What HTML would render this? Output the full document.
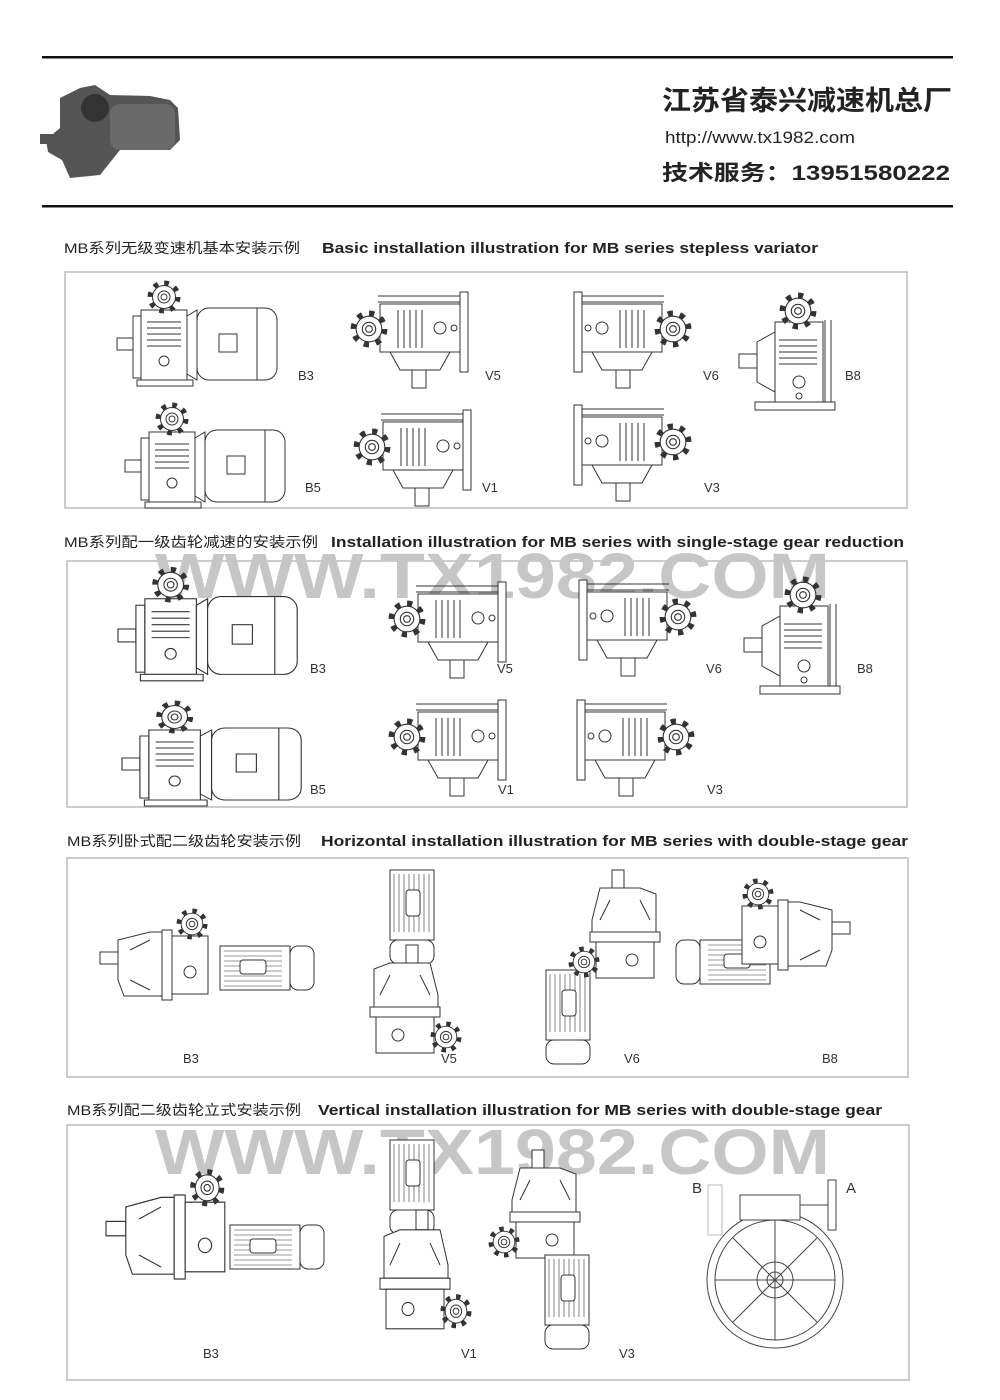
<!DOCTYPE html>
<html><head><meta charset="utf-8"><style>
html,body{margin:0;padding:0;background:#fff}
svg{display:block}
.t{font-family:"Liberation Sans","Noto Sans CJK SC",sans-serif}
.lab{font-family:"Liberation Sans",sans-serif;font-size:13px;fill:#333}
.wm{font-family:"Liberation Sans",sans-serif;font-weight:bold;font-size:64px;fill:#c6c6c6}
</style></head><body>
<svg width="1000" height="1400" viewBox="0 0 1000 1400" xmlns="http://www.w3.org/2000/svg">
<defs>
<symbol id="g" viewBox="-17 -17 34 34" overflow="visible">
 <circle r="13.5" fill="none" stroke="#333" stroke-width="6" stroke-dasharray="4.5 6.1"/>
 <circle r="11.5" fill="#fff" stroke="#333" stroke-width="1"/>
 <circle r="6" fill="none" stroke="#333" stroke-width="1"/>
 <circle r="3" fill="none" stroke="#333" stroke-width="1"/>
</symbol>
<g id="H" fill="#fff" stroke="#333" stroke-width="1">
 <rect x="0" y="50" width="16" height="12"/>
 <rect x="16" y="28" width="8" height="62"/>
 <rect x="24" y="22" width="46" height="70"/>
 <path d="M30 34h34M30 40h34M30 46h34M30 52h34M30 58h34" fill="none"/>
 <circle cx="47" cy="73" r="5"/>
 <use href="#g" x="30" y="-8" width="34" height="34"/>
 <path d="M70 28 L80 22 L80 92 L70 86Z"/>
 <rect x="80" y="20" width="80" height="72" rx="12"/>
 <rect x="102" y="46" width="18" height="18"/>
 <path d="M140 20v72M20 92h56v6H20z"/>
</g>
<g id="V" fill="#fff" stroke="#333" stroke-width="1">
 <path d="M28 4h82M28 10h82" fill="none"/>
 <rect x="110" y="0" width="8" height="80"/>
 <rect x="30" y="12" width="80" height="48"/>
 <path d="M48 18v38M54 18v38M60 18v38M66 18v38M72 18v38" fill="none"/>
 <circle cx="90" cy="36" r="6"/><circle cx="104" cy="36" r="3"/>
 <path d="M40 60 L50 78 H90 L100 60Z"/>
 <rect x="62" y="78" width="14" height="18"/>
 <use href="#g" x="0" y="18" width="38" height="38"/>
</g>
<g id="M" fill="#fff" stroke="#333" stroke-width="1">
 <rect x="0" y="0" width="70" height="44"/>
 <path d="M4 5h58M4 10h58M4 15h58M4 20h58M4 25h58M4 30h58M4 35h58M4 40h58" fill="none" stroke-width=".6"/>
 <rect x="20" y="14" width="26" height="14" rx="3"/>
 <rect x="70" y="0" width="24" height="44" rx="8"/>
</g>
<g id="R" fill="#fff" stroke="#333" stroke-width="1">
 <rect x="0" y="22" width="18" height="12"/>
 <path d="M18 10 L50 2 H62 V66 H24 L18 50Z"/>
 <path d="M30 20 L50 10 M30 50 L50 60" fill="none"/>
 <rect x="62" y="0" width="10" height="70"/>
 <rect x="72" y="6" width="36" height="58"/>
 <use href="#g" x="76" y="-22" width="32" height="32"/>
 <circle cx="90" cy="42" r="6"/>
</g>
</defs>

<rect width="1000" height="1400" fill="#fff"/>
<rect x="42" y="56" width="911" height="2.5" fill="#111"/>
<rect x="42" y="205" width="911" height="2.5" fill="#111"/>

<!-- header product photo -->
<g fill="#555">
 <path d="M60 98 L80 88 L95 85 L110 95 L150 96 L170 100 L178 108 L180 140 L170 150 L120 150 L100 175 L70 178 L62 160 L48 152 L46 140 L60 128Z"/>
 <circle cx="95" cy="108" r="14" fill="#333"/>
 <rect x="40" y="134" width="22" height="10"/>
 <rect x="110" y="104" width="65" height="46" rx="10" fill="#6a6a6a"/>
</g>

<text x="662" y="110" font-size="27" fill="#222" font-weight="bold" textLength="290" lengthAdjust="spacingAndGlyphs" style="font-family:'Noto Sans CJK SC',sans-serif">江苏省泰兴减速机总厂</text>
<text class="t" x="665" y="143" font-size="17" fill="#222" textLength="190" lengthAdjust="spacingAndGlyphs">http://www.tx1982.com</text>
<text class="t" x="662" y="180" font-size="21" fill="#222" font-weight="bold" textLength="288" lengthAdjust="spacingAndGlyphs">技术服务：13951580222</text>

<!-- section titles -->
<g class="t" font-size="14" fill="#222">
 <text x="64" y="253" textLength="236" lengthAdjust="spacingAndGlyphs">MB系列无级变速机基本安装示例</text>
 <text x="322" y="253" font-weight="bold" font-size="15" textLength="496" lengthAdjust="spacingAndGlyphs">Basic installation illustration for MB series stepless variator</text>
 <text x="64" y="547" textLength="254" lengthAdjust="spacingAndGlyphs">MB系列配一级齿轮减速的安装示例</text>
 <text x="331" y="547" font-weight="bold" font-size="15" textLength="573" lengthAdjust="spacingAndGlyphs">Installation illustration for MB series with single-stage gear reduction</text>
 <text x="67" y="846" textLength="234" lengthAdjust="spacingAndGlyphs">MB系列卧式配二级齿轮安装示例</text>
 <text x="321" y="846" font-weight="bold" font-size="15" textLength="587" lengthAdjust="spacingAndGlyphs">Horizontal installation illustration for MB series with double-stage gear</text>
 <text x="67" y="1115" textLength="234" lengthAdjust="spacingAndGlyphs">MB系列配二级齿轮立式安装示例</text>
 <text x="318" y="1115" font-weight="bold" font-size="15" textLength="564" lengthAdjust="spacingAndGlyphs">Vertical installation illustration for MB series with double-stage gear</text>
</g>

<!-- panels -->
<g fill="none" stroke="#bbb" stroke-width="1.5">
 <rect x="65" y="272" width="842" height="236"/>
 <rect x="67" y="561" width="840" height="246"/>
 <rect x="67" y="858" width="841" height="219"/>
 <rect x="67" y="1125" width="842" height="255"/>
</g>

<!-- watermarks -->
<text class="wm" x="155" y="598" textLength="675" lengthAdjust="spacingAndGlyphs">WWW.TX1982.COM</text>
<text class="wm" x="155" y="1174" textLength="675" lengthAdjust="spacingAndGlyphs">WWW.TX1982.COM</text>

<!-- Panel 1 -->
<use href="#H" x="117" y="288"/>
<use href="#V" x="350" y="292"/>
<use href="#V" transform="translate(692,292) scale(-1,1)"/>
<use href="#V" transform="translate(755,292) rotate(90) translate(0,-80)"/>
<use href="#H" x="125" y="410"/>
<use href="#V" x="353" y="410"/>
<use href="#V" transform="translate(692,405) scale(-1,1)"/>

<!-- Panel 2 -->
<use href="#H" transform="translate(118,575) scale(1.12,1.08)"/>
<use href="#V" x="388" y="582"/>
<use href="#V" transform="translate(697,580) scale(-1,1)"/>
<use href="#V" transform="translate(760,576) rotate(90) translate(0,-80)"/>
<use href="#H" transform="translate(122,708) scale(1.12,1)"/>
<use href="#V" x="388" y="700"/>
<use href="#V" transform="translate(695,700) scale(-1,1)"/>

<!-- Panel 3 -->
<use href="#R" x="100" y="930"/>
<use href="#M" x="220" y="946"/>
<use href="#M" transform="translate(390,870) rotate(90) translate(0,-44)"/>
<use href="#R" transform="translate(440,945) rotate(90)"/>
<use href="#M" transform="translate(546,970) rotate(90) translate(0,-44)"/>
<use href="#R" transform="translate(610,870) rotate(90) scale(1,-1) translate(0,-20)"/>
<use href="#M" transform="translate(770,940) scale(-1,1)"/>
<use href="#R" transform="translate(850,900) scale(-1,1)"/>

<!-- Panel 4 -->
<use href="#R" transform="translate(106,1195) scale(1.1,1.2)"/>
<use href="#M" transform="translate(230,1225)"/>
<use href="#M" transform="translate(390,1140) rotate(90) translate(0,-44)"/>
<use href="#R" transform="translate(450,1210) rotate(90) scale(1.1,1)"/>
<use href="#R" transform="translate(530,1150) rotate(90) scale(1,-1) translate(0,-20)"/>
<use href="#M" transform="translate(545,1255) rotate(90) translate(0,-44)"/>
<g fill="none" stroke="#444" stroke-width="1">
 <circle cx="775" cy="1280" r="68"/>
 <circle cx="775" cy="1280" r="60"/>
 <circle cx="775" cy="1280" r="18"/>
 <circle cx="775" cy="1280" r="8"/>
 <path d="M775 1220v120M715 1280h120M733 1238l84 84M817 1238l-84 84"/>
 <rect x="740" y="1195" width="60" height="25" fill="#fff"/>
 <rect x="828" y="1180" width="8" height="50" fill="#fff"/>
 <path d="M800 1205h28"/>
 <rect x="708" y="1185" width="14" height="50" stroke="#bbb"/>
</g>

<!-- labels -->
<g class="lab">
 <text x="298" y="380">B3</text><text x="485" y="380">V5</text><text x="703" y="380">V6</text><text x="845" y="380">B8</text>
 <text x="305" y="492">B5</text><text x="482" y="492">V1</text><text x="704" y="492">V3</text>
 <text x="310" y="673">B3</text><text x="497" y="673">V5</text><text x="706" y="673">V6</text><text x="857" y="673">B8</text>
 <text x="310" y="794">B5</text><text x="498" y="794">V1</text><text x="707" y="794">V3</text>
 <text x="183" y="1063">B3</text><text x="441" y="1063">V5</text><text x="624" y="1063">V6</text><text x="822" y="1063">B8</text>
 <text x="203" y="1358">B3</text><text x="461" y="1358">V1</text><text x="619" y="1358">V3</text>
 <text x="692" y="1193" font-size="15">B</text><text x="846" y="1193" font-size="15">A</text>
</g>
</svg>
</body></html>
